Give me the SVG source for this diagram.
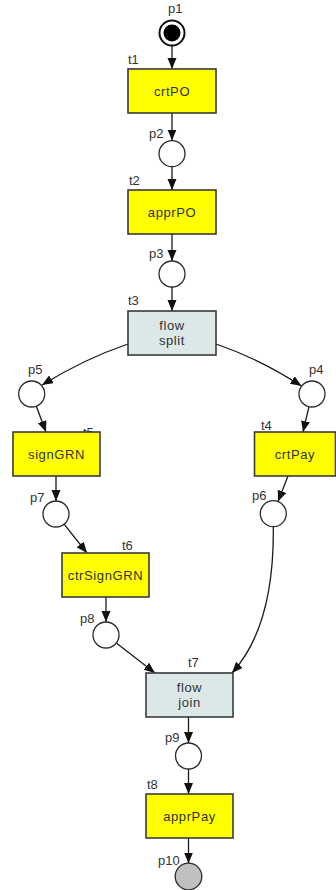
<svg xmlns="http://www.w3.org/2000/svg" width="336" height="890" viewBox="0 0 336 890">
<defs>
<marker id="ah" markerUnits="userSpaceOnUse" markerWidth="12" markerHeight="10" refX="11" refY="4.5" orient="auto">
<path d="M0,0 L11,4.5 L0,9 z" fill="#111"/>
</marker>
<style>
.tr{fill:#ffff00;stroke:#3a3a3a;stroke-width:1.6}
.fl{fill:#dce8e8;stroke:#3a3a3a;stroke-width:1.6}
.pl{fill:#fff;stroke:#2a2a2a;stroke-width:1.3}
.nm{font-family:"Liberation Sans",Arial,sans-serif;font-size:13px;fill:#333;text-anchor:middle;letter-spacing:0.6px}
.lb{font-family:"Liberation Sans",Arial,sans-serif;font-size:13px;fill:#333}
.ar{fill:none;stroke:#1a1a1a;stroke-width:1.3;marker-end:url(#ah)}
</style>
</defs>
<rect width="336" height="890" fill="#fff"/>
<g id="connectors">
<line class="ar" x1="172" y1="46" x2="172" y2="69"/>
<line class="ar" x1="172" y1="113" x2="172" y2="140.5"/>
<line class="ar" x1="172" y1="167" x2="172" y2="190"/>
<line class="ar" x1="172" y1="234" x2="172" y2="261"/>
<line class="ar" x1="172" y1="287" x2="172" y2="311"/>
<path class="ar" d="M128,344 Q84,359 42,385"/>
<path class="ar" d="M216,344 Q260,359 301.5,386"/>
<line class="ar" x1="36.3" y1="406.2" x2="46" y2="432"/>
<line class="ar" x1="309" y1="406.6" x2="303" y2="432"/>
<line class="ar" x1="56" y1="476" x2="56" y2="501"/>
<line class="ar" x1="288" y1="476" x2="278" y2="501.6"/>
<line class="ar" x1="64.1" y1="524.2" x2="87" y2="553"/>
<line class="ar" x1="106" y1="597" x2="106" y2="622"/>
<line class="ar" x1="116.3" y1="643" x2="155" y2="673"/>
<path class="ar" d="M273.3,527 C274,590 262,640 232,673"/>
<line class="ar" x1="188.5" y1="717" x2="188.5" y2="743"/>
<line class="ar" x1="188.5" y1="769" x2="188.5" y2="794"/>
<line class="ar" x1="188.5" y1="838" x2="188.5" y2="863.5"/>
</g>
<g id="p1"><circle cx="172" cy="33" r="12.5" fill="#fff" stroke="#111" stroke-width="2"/><circle cx="172" cy="33" r="8.5" fill="#000"/><text class="lb" x="168" y="13">p1</text></g>
<g id="t1"><rect class="tr" x="128" y="69" width="88" height="44"/><text class="nm" x="172" y="95.5">crtPO</text><text class="lb" x="128" y="64">t1</text></g>
<g id="p2"><circle class="pl" cx="172" cy="153.7" r="13"/><text class="lb" x="149" y="138">p2</text></g>
<g id="t2"><rect class="tr" x="128" y="190" width="88" height="44"/><text class="nm" x="172" y="216.5">apprPO</text><text class="lb" x="129" y="185">t2</text></g>
<g id="p3"><circle class="pl" cx="172" cy="274" r="13"/><text class="lb" x="149" y="258">p3</text></g>
<g id="t3"><rect class="fl" x="128" y="311" width="88" height="44"/><text class="nm" x="172" y="330">flow</text><text class="nm" x="172" y="345">split</text><text class="lb" x="128" y="305">t3</text></g>
<g id="p5"><circle class="pl" cx="31.7" cy="394" r="13"/><text class="lb" x="28" y="374">p5</text></g>
<g id="p4"><circle class="pl" cx="312" cy="394" r="13"/><text class="lb" x="309" y="374">p4</text></g>
<g id="t5"><text class="lb" x="83" y="436.5">t5</text><rect class="tr" x="13" y="432" width="87" height="44"/><text class="nm" x="56.5" y="458.5">signGRN</text></g>
<g id="t4"><rect class="tr" x="254.5" y="432" width="81" height="44"/><text class="nm" x="295" y="458.5">crtPay</text><text class="lb" x="261" y="430">t4</text></g>
<g id="p7"><circle class="pl" cx="56" cy="514" r="13"/><text class="lb" x="30" y="502">p7</text></g>
<g id="p6"><circle class="pl" cx="273.3" cy="513.7" r="13"/><text class="lb" x="252" y="499.5">p6</text></g>
<g id="t6"><rect class="tr" x="62" y="553" width="87" height="44"/><text class="nm" x="105.5" y="579.5">ctrSignGRN</text><text class="lb" x="122" y="550">t6</text></g>
<g id="p8"><circle class="pl" cx="106" cy="635" r="13"/><text class="lb" x="80" y="623">p8</text></g>
<g id="t7"><rect class="fl" x="146" y="673" width="87" height="44"/><text class="nm" x="189.5" y="692">flow</text><text class="nm" x="189.5" y="707">join</text><text class="lb" x="188" y="667">t7</text></g>
<g id="p9"><circle class="pl" cx="188.5" cy="756" r="13"/><text class="lb" x="165" y="742">p9</text></g>
<g id="t8"><rect class="tr" x="146" y="794" width="87" height="44"/><text class="nm" x="189.5" y="820.5">apprPay</text><text class="lb" x="147" y="789">t8</text></g>
<g id="p10"><circle cx="188.5" cy="876.5" r="13.3" fill="#c0c0c0" stroke="#2a2a2a" stroke-width="1.3"/><text class="lb" x="158" y="865">p10</text></g>
</svg>
